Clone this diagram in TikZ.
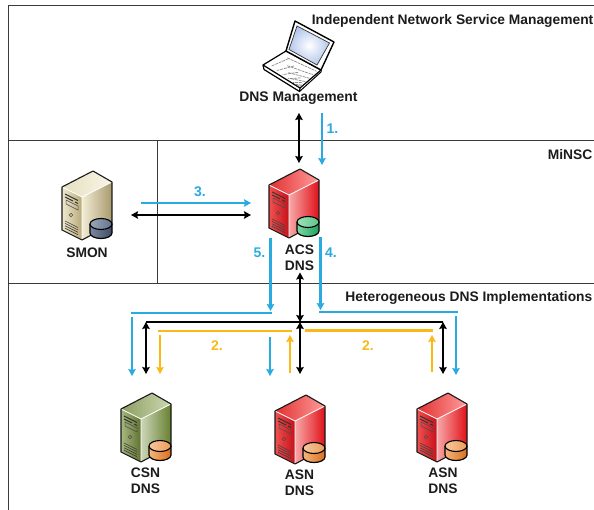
\documentclass[tikz,border=0pt]{standalone}
\usepackage{fontspec}
\setmainfont{Liberation Sans}
\usetikzlibrary{arrows.meta,calc}
\definecolor{cblue}{HTML}{29ABE2}
\definecolor{cyel}{HTML}{FBB917}
\definecolor{cframe}{HTML}{3A3A3A}
\definecolor{ctext}{HTML}{1C1C1C}
\tikzset{
  frameline/.style={draw=cframe,line width=1pt},
  tipk/.style={line width=2.2pt,draw=black,{Stealth[length=7pt,width=7.5pt,inset=1pt]}-{Stealth[length=7pt,width=7.5pt,inset=1pt]}},
  tipb/.style={line width=2.1pt,draw=cblue,-{Stealth[length=7pt,width=7.5pt,inset=1pt]}},
  tipy/.style={line width=2.2pt,draw=cyel,-{Stealth[length=7pt,width=7.5pt,inset=1pt]}},
  linb/.style={line width=2.1pt,draw=cblue},
  liny/.style={line width=2.2pt,draw=cyel},
  link/.style={line width=2.2pt,draw=black},
  lbl/.style={inner sep=0pt,text=ctext,font=\bfseries\fontsize{13.8}{16}\selectfont,align=center},
  lblserver/.style={lbl,font=\bfseries\fontsize{13.8}{16}\selectfont},
  numb/.style={inner sep=0pt,text=cblue,font=\bfseries\fontsize{14}{15}\selectfont},
  numy/.style={inner sep=0pt,text=cyel,font=\bfseries\fontsize{14}{15}\selectfont},
}
% #1 origin, #2 front dark, #3 front light, #4 side light, #5 side dark, #6 top A, #7 top B, #8 disk dark, #9 disk light
\newcommand\srv[9]{%
\definecolor{sfd}{HTML}{#2}\definecolor{sfl}{HTML}{#3}\definecolor{ssl}{HTML}{#4}\definecolor{ssd}{HTML}{#5}%
\definecolor{sta}{HTML}{#6}\definecolor{stb}{HTML}{#7}\definecolor{sdd}{HTML}{#8}\definecolor{sdl}{HTML}{#9}%
\begin{scope}[shift={(#1)}]
  \shade[left color=sfl,right color=sfd] (-20,-53) -- (0,-43) -- (0,0) -- (-20,-10) -- cycle;
  \shade[left color=ssl,right color=ssd] (0,-43) -- (30,-58) -- (30,-16) -- (0,0) -- cycle;
  \shade[left color=sta,right color=stb] (-20,-53) -- (11,-69) -- (30,-58) -- (0,-43) -- cycle;
  \draw[white,line width=0.7pt] (-20,-53) -- (0,-43) -- (30,-58) (0,-43) -- (0,0);
  \draw[black!90,line width=1.1pt,line join=round] (-20,-53) -- (11,-69) -- (30,-58) -- (30,-16) -- (0,0) -- (-20,-10) -- cycle;
  \draw[black!80,line width=0.9pt] (-17,-46) -- (-4,-39.5);
  \draw[black!80,line width=0.9pt] (-17,-43) -- (-9,-39) (-7,-38) -- (-4,-36.5);
  \draw[black!70,line width=0.5pt] (-16,-40) -- (-4,-34) -- (-4,-30) -- (-16,-36) -- cycle;
  \draw[black!70,line width=0.5pt] (-11,-25) circle[radius=1.8pt];
  \foreach \k in {0,2.4,4.8,7.2} \draw[black!75,line width=0.6pt] (-17,-19+\k) -- (-4,-12.5+\k);
  \shade[left color=sdl,right color=sdd] (8,-16) -- (8,-7) arc[start angle=180,end angle=360,x radius=11pt,y radius=5.5pt] -- (30,-16) -- cycle;
  \draw[black,line width=1.2pt] (8,-16) -- (8,-7) arc[start angle=180,end angle=360,x radius=11pt,y radius=5.5pt] -- (30,-16);
  \shade[left color=sdl!75!white,right color=sdl!65!sdd] (19,-16) ellipse[x radius=11pt,y radius=5.5pt];
  \draw[black,line width=1.1pt] (19,-16) ellipse[x radius=11pt,y radius=5.5pt];
\end{scope}}
\begin{document}
\begin{tikzpicture}[x=1pt,y=-1pt]
\useasboundingbox[fill=white] (0,0) rectangle (594,510);
% frame
\coordinate (ftl) at (8,6); \coordinate (ftr) at (594,6); \coordinate (fbl) at (8,510);
\coordinate (m1l) at (8,141); \coordinate (m1r) at (594,141);
\coordinate (m2l) at (8,284); \coordinate (m2r) at (594,284);
\coordinate (vt) at (157,141); \coordinate (vb) at (157,284);
\draw[frameline] (ftr) -- (ftl) -- (fbl);
\draw[frameline] (m1l) -- (m1r);
\draw[frameline] (m2l) -- (m2r);
\draw[frameline] (vt) -- (vb);
% laptop
\coordinate (lapTL) at (295,21); \coordinate (lapTR) at (334,42);
\coordinate (lapHR) at (321,70); \coordinate (lapHL) at (286,51);
\coordinate (lapL) at (263,65); \coordinate (lapF) at (300,88);
\fill[white] (lapL) -- (lapHL) -- (lapHR) -- (lapF) -- ++(0,2) -- (264,70) -- cycle;
\draw[black,line width=1.2pt,line join=round] (lapL) -- (lapHL) -- (lapHR) -- (lapF) -- cycle;
\draw[black,line width=1.2pt,line join=round] (lapL) -- (264,69.5) -- (299.5,91.5) -- (lapF);
\draw[black,line width=1pt] (299.5,91.5) -- (321,72) -- (lapHR);
\foreach \t in {0.12,0.28,0.44,0.60,0.76,0.9}
  \draw[black!45,line width=0.7pt,dash pattern=on 3pt off 0.8pt] ($(lapHL)!\t!(lapHR)!0.12!(lapL)!\t!(lapF)$) -- ($(lapHL)!\t!(lapHR)!0.85!(lapL)!\t!(lapF)$);
\foreach \t in {0.12,0.3,0.48,0.66,0.85}
  \draw[black!45,line width=0.7pt,dash pattern=on 3pt off 0.8pt] ($(lapHL)!\t!(lapL)!0.06!(lapHR)!\t!(lapF)$) -- ($(lapHL)!\t!(lapL)!0.94!(lapHR)!\t!(lapF)$);
\fill[white] (lapTL) -- (lapTR) -- (lapHR) -- (lapHL) -- cycle;
\draw[black,line width=1.4pt,line join=round] (lapTL) -- (lapTR) -- (lapHR) -- (lapHL) -- cycle;
\definecolor{cscreen}{HTML}{B4C8EC}
\shade[inner color=white,outer color=cscreen,draw=black!80,line width=0.7pt] (297,26) -- (329.5,43) -- (317,65) -- (289,49.5) -- cycle;
% servers
\srv{82,240}{B8A878}{EFE9CF}{F3ECD6}{A89A6C}{E6DFC0}{F8F5E6}{3E4C66}{7A88A0}
\srv{289,238}{C4101A}{F25050}{F8A8A8}{E01018}{E23030}{FF9C9C}{1FA060}{7FD8A0}
\srv{141,462}{5F7230}{A8B880}{CDD6B8}{66802F}{8C9E60}{CCD8B0}{D87020}{F6B47A}
\srv{295,464}{C4101A}{F25050}{F8A8A8}{E01018}{E23030}{FF9C9C}{D87020}{F6B47A}
\srv{437,462}{C4101A}{F25050}{F8A8A8}{E01018}{E23030}{FF9C9C}{D87020}{F6B47A}
% labels
\node[lbl,anchor=east] (tINSM) at (593.5,21) {Independent Network Service Management};
\node[lbl,anchor=east] (tMiNSC) at (592.5,155) {MiNSC};
\node[lbl,anchor=east] (tHet) at (592.5,298) {Heterogeneous DNS Implementations};
\node[lbl,font=\bfseries\fontsize{13.9}{16}\selectfont] (tDNSM) at (298.5,98) {DNS Management};
\node[lblserver] (tSMON) at (87,252.5) {SMON};
\node[lblserver] (tACS) at (299.5,257.5) {ACS\\[0pt]DNS};
\node[lblserver] (tCSN) at (145.5,480.5) {CSN\\[0pt]DNS};
\node[lblserver] (tASN1) at (299.5,482.5) {ASN\\[0pt]DNS};
\node[lblserver] (tASN2) at (443,480.5) {ASN\\[0pt]DNS};
\node[numb] (n1) at (332.5,129) {1.};
\node[numb] (n3) at (200,191.5) {3.};
\node[numb] (n5) at (259.5,252.5) {5.};
\node[numb] (n4) at (331,252.5) {4.};
\node[numy] (n2a) at (217,345.5) {2.};
\node[numy] (n2b) at (368,345.5) {2.};
% connector ends
\coordinate (a1) at (299,113); \coordinate (a2) at (299,163);
\coordinate (b1) at (322,113); \coordinate (b2) at (322,165);
\coordinate (c1) at (141,203); \coordinate (c2) at (251,203);
\coordinate (d1) at (131,215); \coordinate (d2) at (251,215);
\coordinate (e1) at (270.5,238); \coordinate (e2) at (270.5,311);
\coordinate (f1) at (320.5,237); \coordinate (f2) at (320.5,310);
\coordinate (g1) at (300,272.5); \coordinate (gj) at (300,322); \coordinate (g2) at (300,374);
\coordinate (hl) at (146,322); \coordinate (hr) at (443,322);
\coordinate (hlb) at (146,374); \coordinate (hrb) at (443,374);
\coordinate (i1) at (131,313); \coordinate (i2) at (272,313);
\coordinate (i3) at (132,317); \coordinate (i4) at (132,376);
\coordinate (i5) at (270,337); \coordinate (i6) at (270,376);
\coordinate (j1) at (319,312); \coordinate (j2) at (458,312);
\coordinate (j3) at (456,316); \coordinate (j4) at (456,375);
\coordinate (k1) at (158,331); \coordinate (k2) at (292,331);
\coordinate (k3) at (160,335); \coordinate (k4) at (160,374);
\coordinate (k5) at (290,373); \coordinate (k6) at (290,335);
\coordinate (l1) at (305,330.5); \coordinate (l2) at (433,330.5);
\coordinate (l3) at (432,372); \coordinate (l4) at (432,335);
% connectors
\draw[tipk] (a1) -- (a2);
\draw[tipb] (b1) -- (b2);
\draw[tipb] (c1) -- (c2);
\draw[tipk] (d1) -- (d2);
\draw[tipb] (e1) -- (e2);
\draw[tipb] (f1) -- (f2);
\draw[linb] (i1) -- (i2);
\draw[tipb] (i3) -- (i4);
\draw[tipb] (i5) -- (i6);
\draw[linb] (j1) -- (j2);
\draw[tipb] (j3) -- (j4);
\draw[liny] (k1) -- (k2);
\draw[tipy] (k3) -- (k4);
\draw[tipy] (k5) -- (k6);
\draw[liny] (l1) -- (l2);
\draw[tipy] (l3) -- (l4);
\draw[link] (hl) -- (hr);
\draw[tipk] (g1) -- (gj);
\draw[tipk] (gj) -- (g2);
\draw[tipk] (hl) -- (hlb);
\draw[tipk] (hr) -- (hrb);
\end{tikzpicture}
\end{document}
